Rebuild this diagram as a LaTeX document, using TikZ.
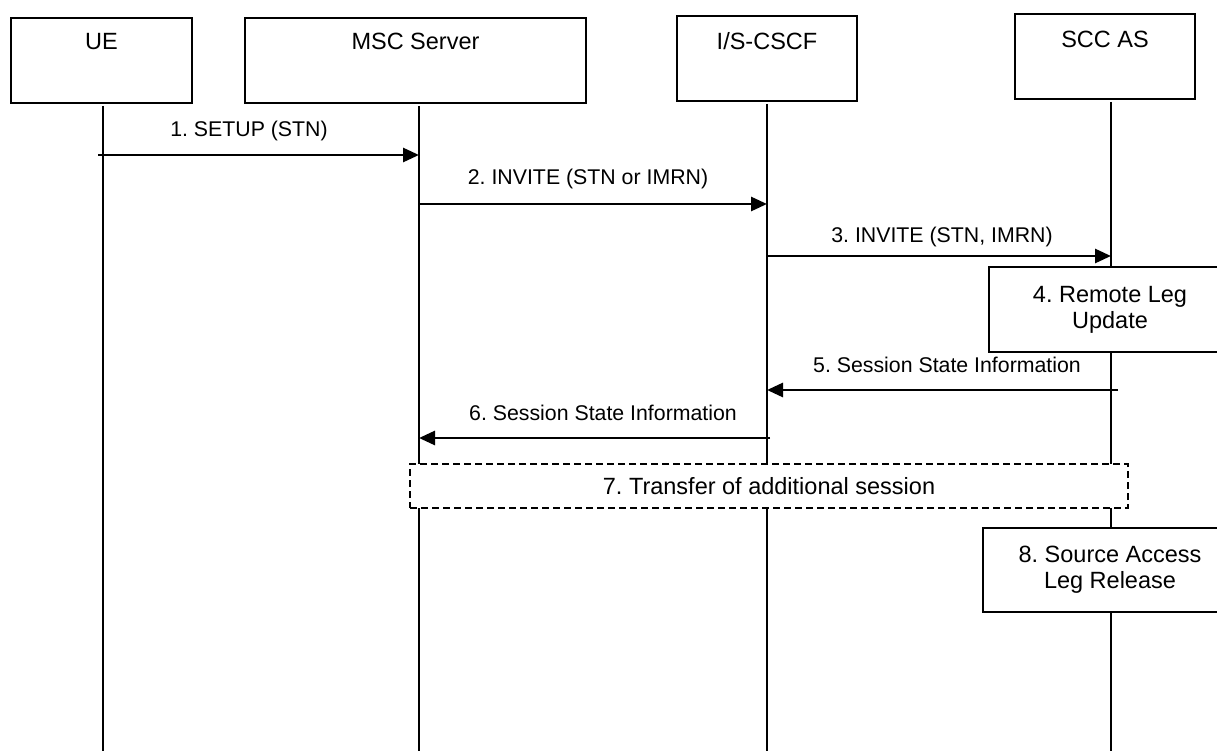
\documentclass[tikz,border=0pt]{standalone}
\usepackage{fontspec}
\setmainfont{Liberation Sans}
\frenchspacing
\usetikzlibrary{arrows.meta}
\tikzset{>={Triangle[length=16pt,width=14pt]}}
\tikzset{
  entity/.style={draw, line width=2pt, fill=white, anchor=north, inner ysep=0pt,
    text height=32pt, text depth=53pt, font=\fontsize{23.5}{25}\selectfont},
  action/.style={draw, line width=2pt, fill=white, align=center,
    font=\fontsize{23.5}{26}\selectfont},
  life/.style={line width=1.8pt, shorten <=2pt},
  msg/.style={->, line width=2.8pt},
  msglbl/.style={anchor=base, font=\fontsize{21.3}{24}\selectfont}
}

\begin{document}
\begin{tikzpicture}[x=1pt, y=-1pt]
\useasboundingbox (0,0) rectangle (1217,751);

% entities
\node[entity, minimum width=181pt] (ue)   at (101.5,17) {UE};
\node[entity, minimum width=341pt] (msc)  at (415.5,17) {MSC Server};
\node[entity, minimum width=180pt, text height=34pt, text depth=51pt] (cscf) at (767,15) {I/S-CSCF};
\node[entity, minimum width=180pt, text height=34pt, text depth=51pt] (scc)  at (1105,13) {SCC AS};

% lifelines
\coordinate (ue-end)   at (103,751);
\coordinate (msc-end)  at (419,751);
\coordinate (cscf-end) at (767,751);
\coordinate (scc-end)  at (1111,751);
\draw[life] (ue-end |- ue.south) -- (ue-end);
\draw[life] (msc-end |- msc.south) -- (msc-end);
\draw[life] (cscf-end |- cscf.south) -- (cscf-end);
\draw[life] (scc-end |- scc.south) -- (scc-end);

% messages
\draw[msg, shorten <=-5pt] (ue-end |- 0,155) -- (msc-end |- 0,155);
\node[msglbl] (m1) at (249,137) {1. SETUP (STN)};
\draw[msg] (msc-end |- 0,204) -- (cscf-end |- 0,204);
\node[msglbl] (m2) at (588,185) {2. INVITE (STN or IMRN)};
\draw[msg] (cscf-end |- 0,256) -- (scc-end |- 0,256);
\node[msglbl] (m3) at (942,243) {3. INVITE (STN, IMRN)};

\node[action, minimum width=242pt, minimum height=85pt] (upd) at (1110,309.5) {4. Remote Leg\\Update};

\draw[msg, shorten <=-7pt] (scc-end |- 0,390) -- (cscf-end |- 0,390);
\node[msglbl] (m5) at (947,372) {5. Session State Information};
\draw[msg, shorten <=-3pt] (cscf-end |- 0,438) -- (msc-end |- 0,438);
\node[msglbl] (m6) at (603,420) {6. Session State Information};

\node[action, dash pattern=on 7pt off 4pt, minimum width=718pt, minimum height=44pt] (xfer) at (769,486) {7. Transfer of additional session};

\node[action, minimum width=254pt, minimum height=84pt] (rel) at (1110,570) {8. Source Access\\Leg Release};

\end{tikzpicture}
\end{document}
